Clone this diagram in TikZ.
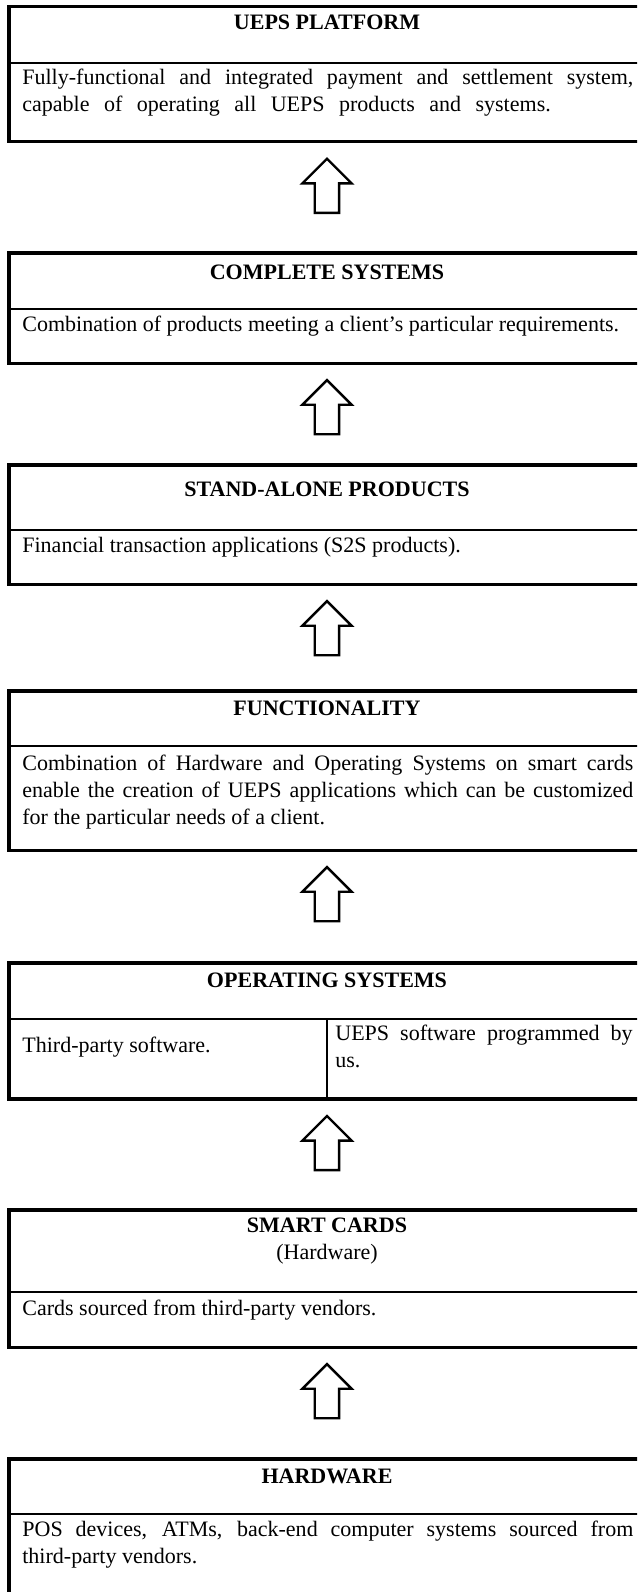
\documentclass[tikz,border=0pt]{standalone}
\usepackage{fontspec}
\setmainfont{Liberation Serif}
\usetikzlibrary{shapes.arrows,calc}

\tolerance=9999

\tikzset{
    frame/.style={draw, line width=1.7pt, inner sep=0pt, outer sep=0pt,
        minimum width=346.6pt, anchor=north west},
    midline/.style={line width=0.9pt},
    head/.style={font=\fontsize{12}{14.7}\selectfont\bfseries, align=center, inner sep=0pt},
    body/.style={font=\fontsize{12}{14.7}\selectfont, text width=333pt,
        align=justify, inner sep=0pt, anchor=north west},
    uparrow/.style={draw, single arrow, shape border rotate=90, line width=1.3pt,
        inner sep=6pt, outer sep=0pt, minimum width=0pt, minimum height=29.5pt,
        single arrow head extend=6.8pt, anchor=tip}
}

\begin{document}
\begin{tikzpicture}[x=0.545pt, y=-0.545pt]
    \useasboundingbox (0,0) rectangle (637,1592);
    \clip (0,0) rectangle (637,1592);

    \node[frame, minimum height=73.6pt] (b1) at (9,6.7) {};
    \node[frame, minimum height=60pt] (b2) at (9,253) {};
    \node[frame, minimum height=64.9pt] (b3) at (9,465) {};
    \node[frame, minimum height=86.7pt] (b4) at (9,691) {};
    \node[frame, minimum height=74.1pt] (b5) at (9,963) {};
    \node[frame, minimum height=74.7pt] (b6) at (9,1210) {};
    \node[frame, minimum height=76.8pt] (b7) at (9,1459) {};

    \coordinate (m1) at (0,62.7);
    \coordinate (m2) at (0,309);
    \coordinate (m3) at (0,530);
    \coordinate (m4) at (0,746);
    \coordinate (m5) at (0,1019);
    \coordinate (m6) at (0,1292);
    \coordinate (m7) at (0,1514);
    \foreach \i in {1,...,7}
        \draw[midline] (b\i.west |- m\i) -- (b\i.east |- m\i);
    \draw[midline] (m5 -| b5.south) -- (b5.south);

    \node[head] (t1) at (327,22.7) {UEPS PLATFORM};
    \node[body] (d1) at (22,69) {Fully-functional and integrated payment and settlement system,\linebreak\makebox[288pt][s]{capable of operating all UEPS products and systems.}};

    \node[head] (t2) at (327,272) {COMPLETE SYSTEMS};
    \node[body] (d2) at (22,316) {Combination of products meeting a client's particular requirements.};

    \node[head] (t3) at (327,489) {STAND-ALONE PRODUCTS};
    \node[body] (d3) at (22,537) {Financial transaction applications (S2S products).};

    \node[head] (t4) at (327,708) {FUNCTIONALITY};
    \node[body] (d4) at (22,755) {Combination of Hardware and Operating Systems on smart cards\linebreak enable the creation of UEPS applications which can be customized\linebreak for the particular needs of a client.};

    \node[head] (t5) at (327,980) {OPERATING SYSTEMS};
    \node[body, text width=160pt] (d5) at (22,1037) {Third-party software.};
    \node[body, text width=162pt] (e5) at (335,1025) {UEPS software programmed by\linebreak us.};

    \node[head] (t6) at (327,1241.5) {SMART CARDS\\\mdseries (Hardware)};
    \node[body] (d6) at (22,1300) {Cards sourced from third-party vendors.};

    \node[head] (t7) at (327,1476) {HARDWARE};
    \node[body] (d7) at (22,1521) {POS devices, ATMs, back-end computer systems sourced from\linebreak third-party vendors.};

    \foreach \i in {1,...,6}
        \node[uparrow] (a\i) at ($(b\i.south)+(0,17)$) {};
\end{tikzpicture}
\end{document}
